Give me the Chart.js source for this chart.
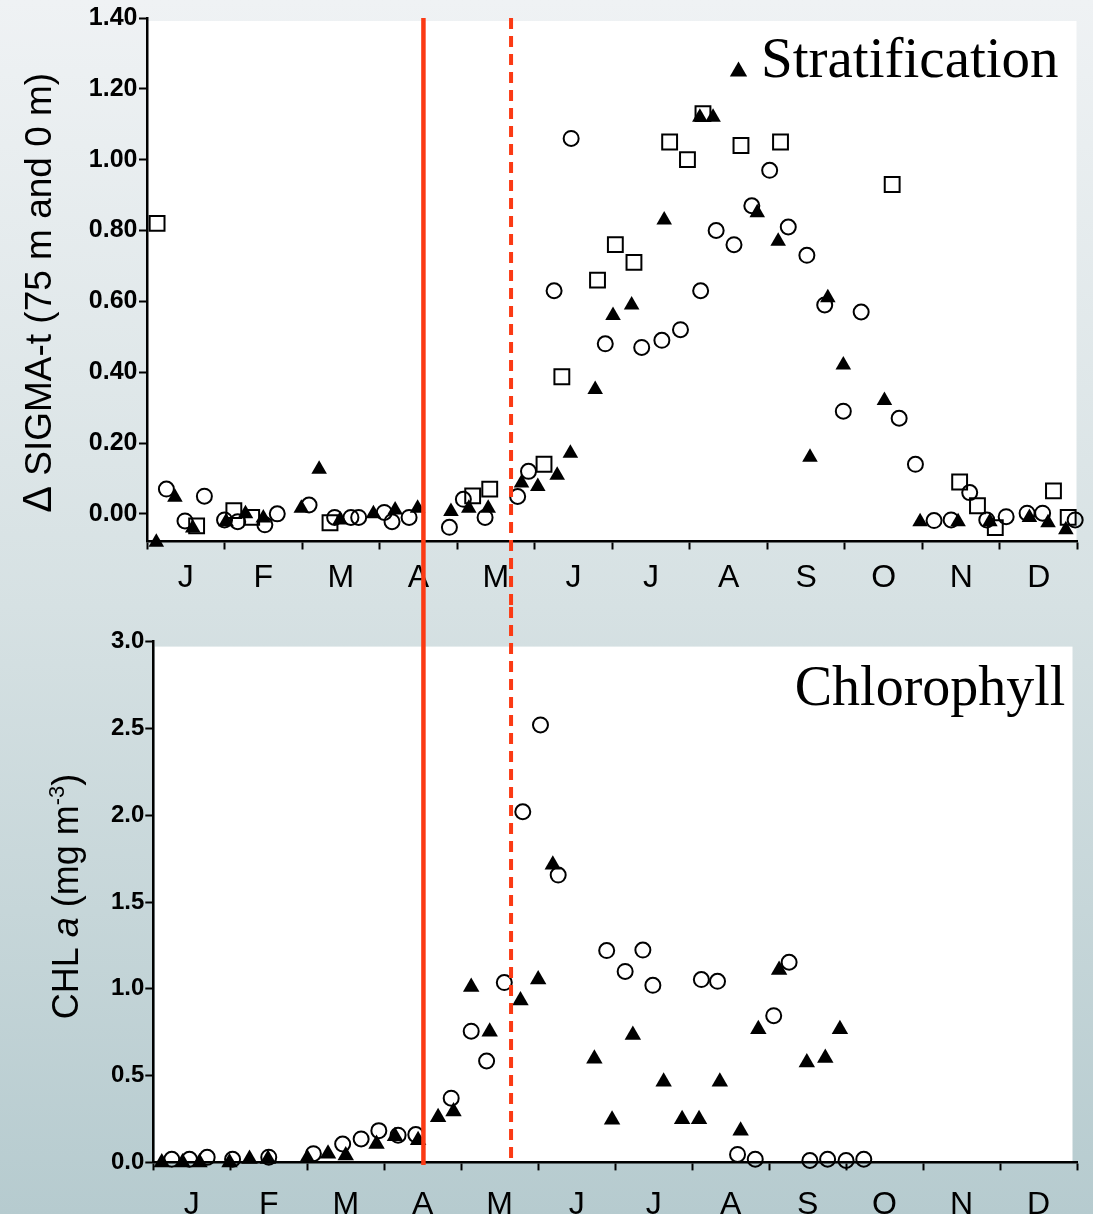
<!DOCTYPE html>
<html>
<head>
<meta charset="utf-8">
<script src="https://cdn.jsdelivr.net/npm/chart.js@4.4.0/dist/chart.umd.min.js"></script>
<style>
  html, body { margin: 0; padding: 0; }
  body {
    width: 1093px; height: 1214px; overflow: hidden; position: relative;
    background: linear-gradient(to bottom, #eff2f4 0%, #d6e1e3 50%, #b6cbcf 100%);
  }
  canvas { position: absolute; left: 0; }
  #sigma { top: 0; }
  #chl { top: 607px; }
</style>
</head>
<body>
<canvas id="sigma" width="1093" height="607"></canvas>
<canvas id="chl" width="1093" height="607"></canvas>
<script>
var months = ['J', 'F', 'M', 'A', 'M', 'J', 'J', 'A', 'S', 'O', 'N', 'D'];
var sigmaTicks = [0, 0.2, 0.4, 0.6, 0.8, 1.0, 1.2, 1.4];
var chlTicks = [0, 0.5, 1.0, 1.5, 2.0, 2.5, 3.0];
var monthTicks = [0, 0.5, 1, 1.5, 2, 2.5, 3, 3.5, 4, 4.5, 5, 5.5, 6, 6.5, 7, 7.5, 8, 8.5, 9, 9.5, 10, 10.5, 11, 11.5, 12];

// x = months since 1 Jan
// top panel: delta sigma-t
var sigmaCircleX = [0.25, 0.49, 0.74, 1.00, 1.17, 1.52, 1.68, 2.09, 2.42, 2.63, 2.73, 3.06, 3.16, 3.38, 3.90, 4.08, 4.36, 4.78, 4.92,
  5.25, 5.47, 5.91, 6.38, 6.64, 6.88, 7.14, 7.34, 7.57, 7.80, 8.03, 8.27, 8.51, 8.74, 8.98, 9.21, 9.70, 9.91,
  10.15, 10.37, 10.61, 10.83, 11.08, 11.35, 11.55, 11.97];
var sigmaCircleY = [0.07, -0.02, 0.05, -0.017, -0.022, -0.031, 0.0, 0.025, -0.01, -0.01, -0.01, 0.004, -0.022, -0.01, -0.038, 0.041, -0.01, 0.049, 0.12,
  0.63, 1.06, 0.48, 0.47, 0.49, 0.52, 0.63, 0.80, 0.76, 0.87, 0.97, 0.81, 0.73, 0.59, 0.29, 0.57, 0.27, 0.14,
  -0.019, -0.017, 0.06, -0.017, -0.008, 0.002, 0.002, -0.017];

var sigmaTriX = [0.12, 0.36, 0.59, 1.02, 1.27, 1.50, 1.99, 2.22, 2.49, 2.92, 3.20, 3.49, 3.92, 4.15, 4.40, 4.83, 5.04, 5.29, 5.46,
  5.78, 6.01, 6.25, 6.67, 7.13, 7.30, 7.87, 8.14, 8.55, 8.78, 8.98, 9.51, 9.97, 10.46, 10.87, 11.38, 11.62, 11.85];
var sigmaTriY = [-0.08, 0.047, -0.04, -0.022, 0.0, -0.012, 0.016, 0.126, -0.017, 0.0, 0.011, 0.016, 0.007, 0.016, 0.016, 0.087, 0.077, 0.109, 0.171,
  0.351, 0.56, 0.59, 0.83, 1.12, 1.12, 0.85, 0.77, 0.16, 0.61, 0.42, 0.32, -0.022, -0.022, -0.022, -0.01, -0.025, -0.045];

var sigmaSquareX = [0.13, 0.64, 1.12, 1.35, 2.36, 4.20, 4.42, 5.12, 5.35, 5.81, 6.04, 6.28, 6.74, 6.97, 7.17, 7.66, 8.17, 9.61,
  10.48, 10.71, 10.94, 11.69, 11.88];
var sigmaSquareY = [0.82, -0.034, 0.009, -0.01, -0.025, 0.051, 0.07, 0.14, 0.387, 0.66, 0.76, 0.71, 1.05, 1.0, 1.13, 1.04, 1.05, 0.93,
  0.09, 0.023, -0.039, 0.065, -0.01];

// bottom panel: chlorophyll a
var chlCircleX = [0.24, 0.47, 0.70, 1.03, 1.50, 2.08, 2.46, 2.70, 2.93, 3.18, 3.41, 3.87, 4.13, 4.33, 4.56, 4.80, 5.03, 5.26,
  5.89, 6.13, 6.36, 6.49, 7.12, 7.33, 7.59, 7.82, 8.06, 8.26, 8.53, 8.76, 9.00, 9.23];
var chlCircleY = [0.018, 0.018, 0.029, 0.018, 0.03, 0.05, 0.106, 0.135, 0.183, 0.157, 0.16, 0.37, 0.756, 0.584, 1.036, 2.02, 2.52, 1.655,
  1.22, 1.10, 1.223, 1.02, 1.053, 1.043, 0.046, 0.018, 0.845, 1.153, 0.011, 0.018, 0.011, 0.018];

var chlTriX = [0.11, 0.38, 0.60, 0.99, 1.25, 1.49, 2.00, 2.27, 2.50, 2.90, 3.14, 3.44, 3.70, 3.90, 4.13, 4.37, 4.77, 5.00, 5.19,
  5.73, 5.96, 6.23, 6.63, 6.87, 7.09, 7.36, 7.63, 7.86, 8.13, 8.49, 8.73, 8.92];
var chlTriY = [0, 0, 0, 0, 0.02, 0.02, 0.024, 0.05, 0.04, 0.106, 0.15, 0.128, 0.26, 0.293, 1.01, 0.752, 0.933, 1.054, 1.715,
  0.597, 0.245, 0.734, 0.465, 0.249, 0.249, 0.465, 0.183, 0.767, 1.109, 0.575, 0.601, 0.767];

// solid line = mid April, dashed line = late May (months on the top axis)
var redLines = [3.565, 4.695];

var sigmaChart = null;

function pts(xs, ys) {
  return xs.map(function (x, i) { return { x: x, y: ys[i] }; });
}

function markerSet(label, style, xs, ys, r, filled) {
  return {
    label: label,
    data: pts(xs, ys),
    pointStyle: style,
    pointRadius: r,
    pointHoverRadius: r,
    pointBorderWidth: filled ? 0 : 2,
    pointBorderColor: '#000',
    pointBackgroundColor: filled ? '#000' : 'rgba(0,0,0,0)',
    clip: false
  };
}

function monthAxis(height, pad) {
  return {
    type: 'linear', min: 0, max: 12,
    afterBuildTicks: function (s) {
      s.ticks = monthTicks.map(function (v) { return { value: v }; });
    },
    afterFit: function (s) { s.height = height; },
    ticks: {
      autoSkip: false, maxRotation: 0, padding: pad, color: '#000',
      font: { family: 'Liberation Sans, Arial, sans-serif', size: 32 },
      callback: function (v) { return v % 1 === 0 ? '' : months[Math.floor(v)]; }
    },
    grid: {
      drawOnChartArea: false, tickLength: 8, tickWidth: 2,
      tickColor: function (c) { return c.tick && c.tick.value % 1 === 0 ? '#000' : 'rgba(0,0,0,0)'; }
    },
    border: { color: '#000', width: 2.5 }
  };
}

function valueAxis(min, max, tickList, digits, width, size, pad) {
  return {
    type: 'linear', min: min, max: max,
    afterBuildTicks: function (s) {
      s.ticks = tickList.map(function (v) { return { value: v }; });
    },
    afterFit: function (s) { s.width = width; },
    ticks: {
      padding: pad, color: '#000',
      font: { family: 'Liberation Sans, Arial, sans-serif', size: size, weight: 'bold' },
      callback: function (v) { return v.toFixed(digits); }
    },
    grid: { drawOnChartArea: false, tickLength: 8, tickWidth: 2, tickColor: '#000' },
    border: { color: '#000', width: 2.5 }
  };
}

// white plot box, red season lines, panel labels and axis title
var panelPlugin = {
  id: 'panel',
  beforeDraw: function (chart, args, o) {
    var a = chart.chartArea, ctx = chart.ctx;
    ctx.save();
    ctx.fillStyle = '#fff';
    ctx.fillRect(a.left + o.inset[0], a.top + o.inset[1], a.right - a.left - o.inset[0] - o.inset[2], a.bottom - a.top - o.inset[1]);
    ctx.restore();
  },
  afterDraw: function (chart, args, o) {
    var ctx = chart.ctx;
    var xs = sigmaChart ? sigmaChart.scales.x : chart.scales.x;
    ctx.save();
    ctx.strokeStyle = '#fb3a14';
    redLines.forEach(function (v, i) {
      var px = xs.getPixelForValue(v);
      ctx.beginPath();
      ctx.lineWidth = i === 0 ? 4.5 : 4;
      ctx.setLineDash(i === 0 ? [] : [11, 7]);
      ctx.lineDashOffset = o.dashOffset;
      ctx.moveTo(px, o.lineTop);
      ctx.lineTo(px, o.lineBottom);
      ctx.stroke();
    });
    ctx.setLineDash([]);

    ctx.fillStyle = '#000';
    ctx.font = o.labelSize + 'px "Liberation Serif", "Times New Roman", serif';
    ctx.textAlign = 'right';
    ctx.textBaseline = 'alphabetic';
    ctx.fillText(o.label, o.labelX, o.labelY);
    if (o.marker) {
      Chart.helpers.drawPoint(ctx, { pointStyle: 'triangle', radius: 10, rotation: 0, borderWidth: 0 }, o.marker[0], o.marker[1]);
    }

    ctx.translate(o.titleX, o.titleY);
    ctx.rotate(-Math.PI / 2);
    ctx.textAlign = 'left';
    var total = 0;
    o.title.forEach(function (p) {
      ctx.font = p.font;
      total += ctx.measureText(p.t).width;
    });
    var cx = -total / 2;
    o.title.forEach(function (p) {
      ctx.font = p.font;
      ctx.fillText(p.t, cx, p.dy || 0);
      cx += ctx.measureText(p.t).width;
    });
    ctx.restore();
  }
};

var sansTitle = '36px "Liberation Sans", Arial, sans-serif';

sigmaChart = new Chart(document.getElementById('sigma'), {
  type: 'scatter',
  data: {
    datasets: [
      markerSet('Circles', 'circle', sigmaCircleX, sigmaCircleY, 7.5, false),
      markerSet('Squares', 'rect', sigmaSquareX, sigmaSquareY, 10.5, false),
      markerSet('Stratification', 'triangle', sigmaTriX, sigmaTriY, 9, true)
    ]
  },
  options: {
    responsive: false,
    animation: false,
    devicePixelRatio: 1,
    layout: { padding: { left: 0, right: 15.5, top: 18, bottom: 0 } },
    scales: {
      x: monthAxis(65.5, 9),
      y: valueAxis(-0.078, 1.4, sigmaTicks, 2, 147, 25, 1.5)
    },
    plugins: {
      legend: { display: false },
      tooltip: { enabled: false },
      panel: {
        inset: [1, 3, 1],
        lineTop: 18, lineBottom: 607, dashOffset: 0,
        label: 'Stratification', labelSize: 57, labelX: 1058.6, labelY: 77,
        marker: [738.5, 71.5],
        titleX: 51, titleY: 292.8,
        title: [
          { t: 'Δ', font: '40px "Liberation Sans", Arial, sans-serif' },
          { t: ' SIGMA-t (75 m and 0 m)', font: '37px "Liberation Sans", Arial, sans-serif' }
        ]
      }
    }
  },
  plugins: [panelPlugin]
});

var chlChart = new Chart(document.getElementById('chl'), {
  type: 'scatter',
  data: {
    datasets: [
      markerSet('Circles', 'circle', chlCircleX, chlCircleY, 7.5, false),
      markerSet('Triangles', 'triangle', chlTriX, chlTriY, 9.5, true)
    ]
  },
  options: {
    responsive: false,
    animation: false,
    devicePixelRatio: 1,
    layout: { padding: { left: 0, right: 11.7, top: 34.6, bottom: 0 } },
    scales: {
      x: monthAxis(51.6, 16),
      y: valueAxis(0, 3.0, chlTicks, 1, 153.3, 24, 1)
    },
    plugins: {
      legend: { display: false },
      tooltip: { enabled: false },
      panel: {
        inset: [1.5, 5, 4.5],
        lineTop: 0, lineBottom: 558, dashOffset: 0,
        label: 'Chlorophyll', labelSize: 56, labelX: 1065.4, labelY: 97.7,
        marker: null,
        titleX: 78, titleY: 289.5,
        title: [
          { t: 'CHL ', font: sansTitle },
          { t: 'a', font: 'italic ' + sansTitle },
          { t: ' (mg m', font: sansTitle },
          { t: '-3', font: '22px "Liberation Sans", Arial, sans-serif', dy: -14 },
          { t: ')', font: sansTitle }
        ]
      }
    }
  },
  plugins: [panelPlugin]
});
</script>
</body>
</html>
